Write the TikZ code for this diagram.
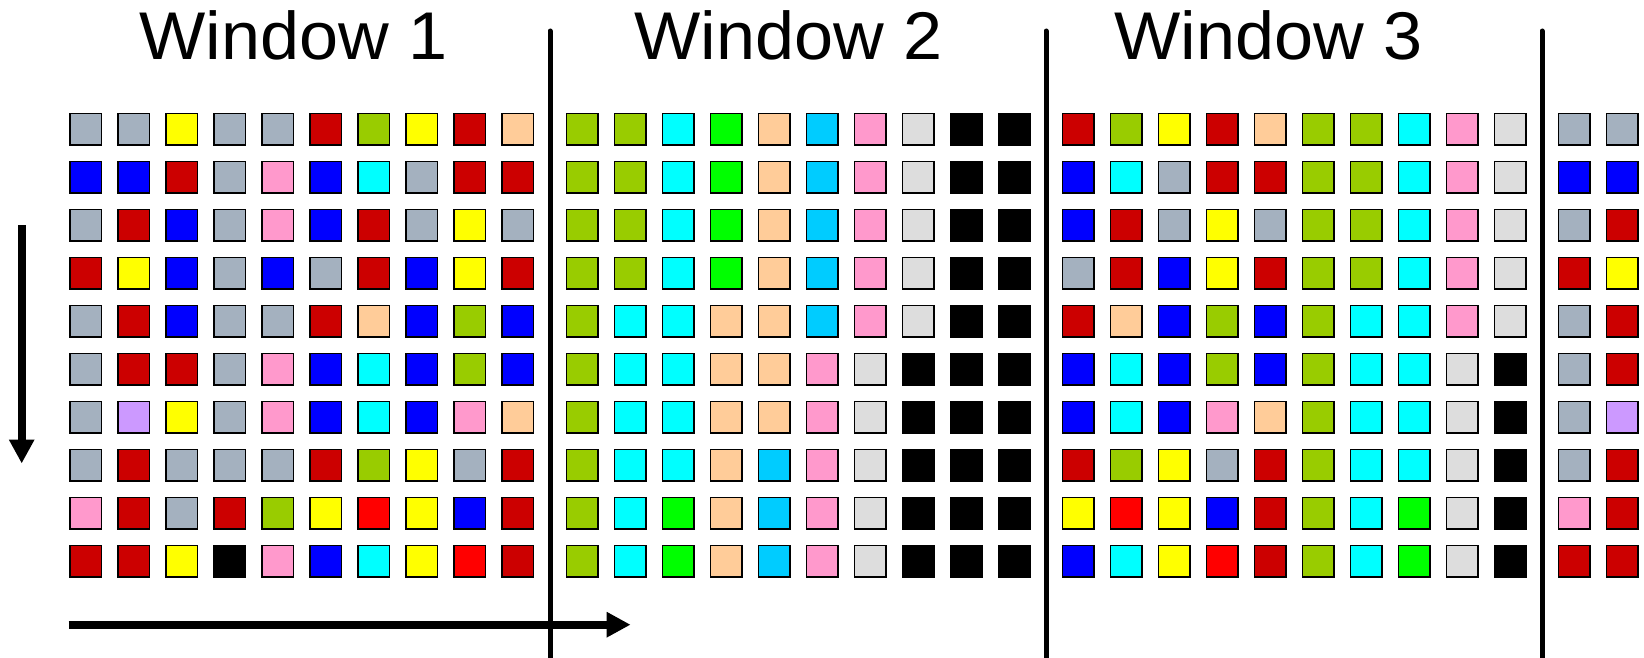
\documentclass[tikz,border=0pt]{standalone}
\usepackage{fontspec}
\newfontfamily\titlefont[FakeStretch=1.04]{Liberation Sans}
\usetikzlibrary{arrows.meta}
\definecolor{cG}{RGB}{164,177,191}
\definecolor{cR}{RGB}{204,0,0}
\definecolor{cY}{RGB}{255,255,0}
\definecolor{cO}{RGB}{153,204,0}
\definecolor{cP}{RGB}{255,204,153}
\definecolor{cB}{RGB}{0,0,255}
\definecolor{cK}{RGB}{255,153,204}
\definecolor{cC}{RGB}{0,255,255}
\definecolor{cN}{RGB}{0,255,0}
\definecolor{cS}{RGB}{0,204,255}
\definecolor{cL}{RGB}{221,221,221}
\definecolor{cX}{RGB}{0,0,0}
\definecolor{cE}{RGB}{255,0,0}
\definecolor{cV}{RGB}{204,153,255}
\tikzset{
  sq/.style={draw=black,line width=1.5pt,minimum size=31.5pt,inner sep=0pt,outer sep=0pt},
  divider/.style={line width=5pt,line cap=round},
  flowarrow/.style={line width=8pt,-{Triangle[width=24pt,length=24pt]}},
  wtitle/.style={anchor=base west,inner sep=0pt,font=\titlefont\fontsize{67.5}{70}\selectfont}
}
\begin{document}
\begin{tikzpicture}[x=1pt,y=-1pt]
\useasboundingbox (0,0) rectangle (1644,658);
% titles
\node[wtitle] (t1) at (139,60) {Window 1};
\node[wtitle] (t2) at (634,60) {Window 2};
\node[wtitle] (t3) at (1114,60) {Window 3};
% dividers
\foreach \x [count=\i] in {550,1046,1542}{
  \coordinate (dtop\i) at (\x,31);
  \coordinate (dbot\i) at (\x,662);
  \draw[divider] (dtop\i) -- (dbot\i);
}
% window 1
\foreach \row [count=\r from 0] in {
 {G,G,Y,G,G,R,O,Y,R,P},
 {B,B,R,G,K,B,C,G,R,R},
 {G,R,B,G,K,B,R,G,Y,G},
 {R,Y,B,G,B,G,R,B,Y,R},
 {G,R,B,G,G,R,P,B,O,B},
 {G,R,R,G,K,B,C,B,O,B},
 {G,V,Y,G,K,B,C,B,K,P},
 {G,R,G,G,G,R,O,Y,G,R},
 {K,R,G,R,O,Y,E,Y,B,R},
 {R,R,Y,X,K,B,C,Y,E,R}}{
  \foreach \c [count=\k from 0] in \row {
    \node[sq,fill=c\c] (a-\r-\k) at (85.8+48*\k,129.2+48*\r) {};
  }
}
% window 2
\foreach \row [count=\r from 0] in {
 {O,O,C,N,P,S,K,L,X,X},
 {O,O,C,N,P,S,K,L,X,X},
 {O,O,C,N,P,S,K,L,X,X},
 {O,O,C,N,P,S,K,L,X,X},
 {O,C,C,P,P,S,K,L,X,X},
 {O,C,C,P,P,K,L,X,X,X},
 {O,C,C,P,P,K,L,X,X,X},
 {O,C,C,P,S,K,L,X,X,X},
 {O,C,N,P,S,K,L,X,X,X},
 {O,C,N,P,S,K,L,X,X,X}}{
  \foreach \c [count=\k from 0] in \row {
    \node[sq,fill=c\c] (b-\r-\k) at (582.2+48*\k,129.2+48*\r) {};
  }
}
% window 3
\foreach \row [count=\r from 0] in {
 {R,O,Y,R,P,O,O,C,K,L},
 {B,C,G,R,R,O,O,C,K,L},
 {B,R,G,Y,G,O,O,C,K,L},
 {G,R,B,Y,R,O,O,C,K,L},
 {R,P,B,O,B,O,C,C,K,L},
 {B,C,B,O,B,O,C,C,L,X},
 {B,C,B,K,P,O,C,C,L,X},
 {R,O,Y,G,R,O,C,C,L,X},
 {Y,E,Y,B,R,O,C,N,L,X},
 {B,C,Y,E,R,O,C,N,L,X}}{
  \foreach \c [count=\k from 0] in \row {
    \node[sq,fill=c\c] (c-\r-\k) at (1078.2+48*\k,129.2+48*\r) {};
  }
}
% window 4 (partial)
\foreach \row [count=\r from 0] in {
 {G,G},{B,B},{G,R},{R,Y},{G,R},{G,R},{G,V},{G,R},{K,R},{R,R}}{
  \foreach \c [count=\k from 0] in \row {
    \node[sq,fill=c\c] (d-\r-\k) at (1574.2+48*\k,129.2+48*\r) {};
  }
}
% arrows
\coordinate (vstart) at (21.7,225);
\coordinate (vend) at (21.7,463.5);
\draw[flowarrow] (vstart) -- (vend);
\coordinate (hstart) at (68.7,624.7);
\coordinate (hend) at (630.6,624.7);
\draw[flowarrow] (hstart) -- (hend);
\end{tikzpicture}
\end{document}
